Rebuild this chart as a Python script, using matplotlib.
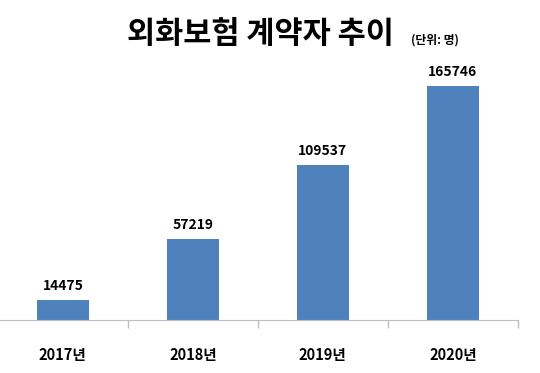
import matplotlib
matplotlib.use("Agg")
import matplotlib.pyplot as plt

plt.rcParams['font.family'] = ['Noto Sans CJK KR', 'DejaVu Sans']

years = ['2017년', '2018년', '2019년', '2020년']
counts = [14475, 57219, 109537, 165746]

fig = plt.figure(figsize=(5.4, 3.73), dpi=100)
ax = fig.add_axes([-0.004, 0.142, 0.963, 0.724])

x = range(len(years))
bars = ax.bar(x, counts, width=0.4, color='#4F81BD')
for xi, v in zip(x, counts):
    ax.text(xi, v + 5000, str(v), ha='center', va='bottom',
            fontsize=10, fontweight='bold')

ax.set_xlim(-0.5, 3.5)
ax.set_ylim(0, 191245)
ax.set_yticks([])
ax.set_xticks([0.5, 1.5, 2.5, 3.5])
ax.set_xticklabels([])
ax.tick_params(axis='x', length=6, color='#BFBFBF', width=1)
for xi, lab in zip(x, years):
    ax.text(xi, -0.13, lab, transform=ax.get_xaxis_transform(),
            ha='center', va='center', fontsize=10.5, fontweight='bold')

for s in ['top', 'right', 'left']:
    ax.spines[s].set_visible(False)
ax.spines['bottom'].set_color('#BFBFBF')

fig.text(0.482, 0.908, '외화보험 계약자 추이', ha='center', va='center',
         fontsize=22, fontweight='bold')
fig.text(0.805, 0.893, '(단위: 명)', ha='center', va='center',
         fontsize=8.5, fontweight='bold')

fig.savefig('out.png', dpi=100)
